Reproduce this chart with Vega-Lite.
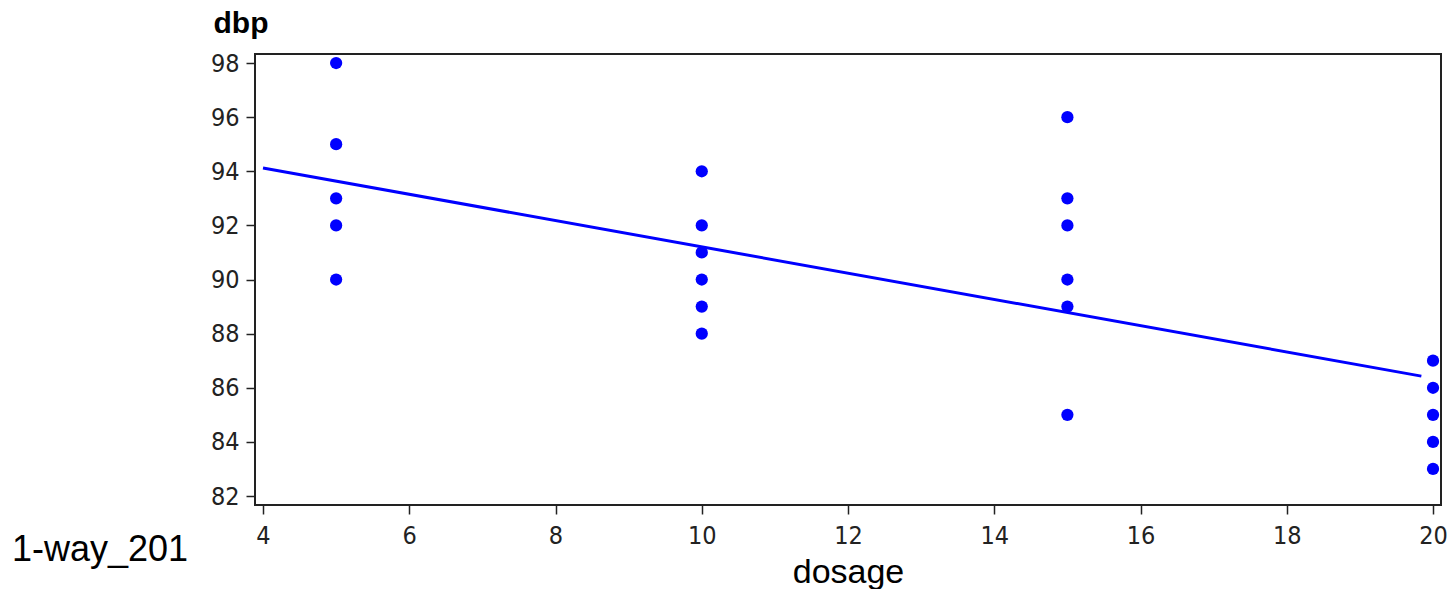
{
  "$schema": "https://vega.github.io/schema/vega-lite/v6.json",
  "autosize": {"type": "none"},
  "width": 1186,
  "height": 451,
  "padding": {"left": 255, "top": 54, "right": 6, "bottom": 84},
  "background": "white",
  "title": {
    "text": "1-way_201",
    "orient": "bottom",
    "anchor": "start",
    "frame": "group",
    "font": "Liberation Sans",
    "fontSize": 36,
    "fontWeight": "normal",
    "color": "black",
    "baseline": "alphabetic",
    "dx": -243,
    "dy": -28,
    "offset": 0
  },
  "config": {
    "view": {"stroke": "#222", "strokeWidth": 2},
    "axis": {
      "domain": false,
      "tickColor": "#222",
      "tickWidth": 1.5,
      "tickSize": 9,
      "labelFont": "DejaVu Sans Condensed",
      "labelFontSize": 25,
      "labelColor": "#222",
      "grid": false,
      "titleColor": "black",
      "titleFont": "Liberation Sans"
    }
  },
  "datasets": {
    "points": [
      {"dosage": 5, "dbp": 98}, {"dosage": 5, "dbp": 95}, {"dosage": 5, "dbp": 93}, {"dosage": 5, "dbp": 92}, {"dosage": 5, "dbp": 90},
      {"dosage": 10, "dbp": 94}, {"dosage": 10, "dbp": 92}, {"dosage": 10, "dbp": 91}, {"dosage": 10, "dbp": 90}, {"dosage": 10, "dbp": 89}, {"dosage": 10, "dbp": 88},
      {"dosage": 15, "dbp": 96}, {"dosage": 15, "dbp": 93}, {"dosage": 15, "dbp": 92}, {"dosage": 15, "dbp": 90}, {"dosage": 15, "dbp": 89}, {"dosage": 15, "dbp": 85},
      {"dosage": 20, "dbp": 87}, {"dosage": 20, "dbp": 86}, {"dosage": 20, "dbp": 85}, {"dosage": 20, "dbp": 84}, {"dosage": 20, "dbp": 83}
    ],
    "fit": [
      {"dosage": 4, "dbp": 94.12},
      {"dosage": 19.84, "dbp": 86.43}
    ]
  },
  "layer": [
    {
      "data": {"name": "fit"},
      "mark": {"type": "line", "color": "#0000ff", "strokeWidth": 3},
      "encoding": {
        "x": {"field": "dosage", "type": "quantitative",
          "scale": {"domain": [3.8906, 20.109], "nice": false, "zero": false},
          "axis": {"values": [4, 6, 8, 10, 12, 14, 16, 18, 20], "format": "d", "title": "dosage",
            "titleFontSize": 34, "titleFontWeight": "normal", "titleBaseline": "alphabetic",
            "titleY": 77, "labelPadding": 9}},
        "y": {"field": "dbp", "type": "quantitative",
          "scale": {"domain": [81.668, 98.333], "nice": false, "zero": false},
          "axis": {"values": [82, 84, 86, 88, 90, 92, 94, 96, 98], "format": "d", "title": "dbp",
            "titleFontSize": 30, "titleFontWeight": "bold", "titleAngle": 0,
            "titleAlign": "left", "titleBaseline": "alphabetic", "titleX": -42, "titleY": -22,
            "labelPadding": 7}}
      }
    },
    {
      "data": {"name": "points"},
      "mark": {"type": "point", "shape": "circle", "filled": true, "color": "#0000ff", "opacity": 1, "size": 150},
      "encoding": {
        "x": {"field": "dosage", "type": "quantitative"},
        "y": {"field": "dbp", "type": "quantitative"}
      }
    }
  ]
}
